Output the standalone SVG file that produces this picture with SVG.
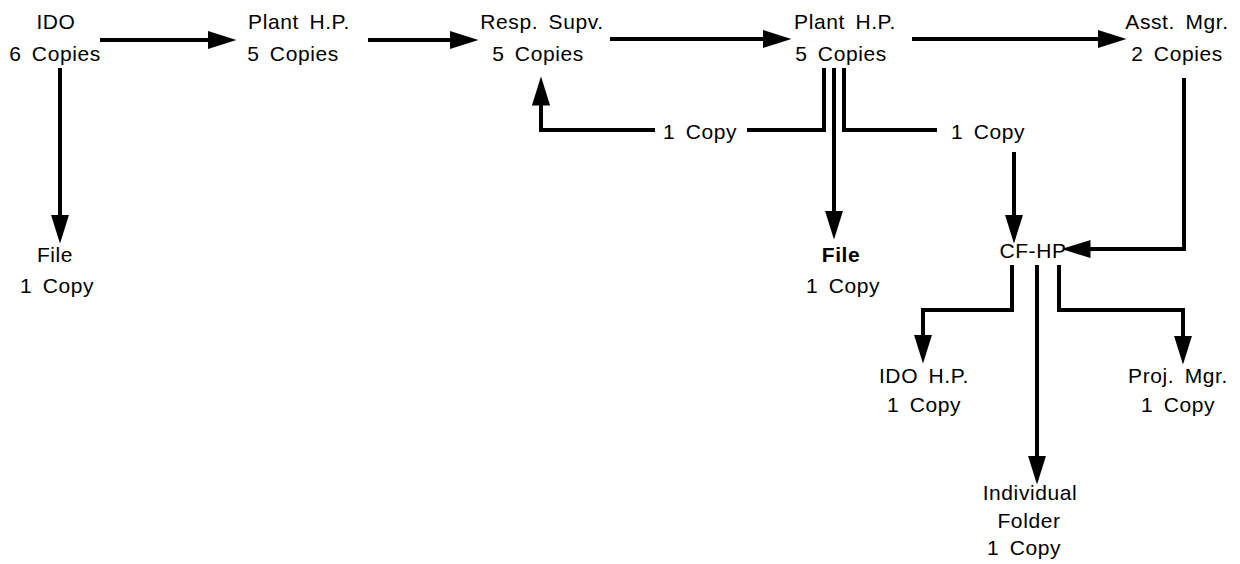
<svg xmlns="http://www.w3.org/2000/svg" width="1240" height="564" viewBox="0 0 1240 564">
<style>
text{font-family:"Liberation Sans",Arial,sans-serif;font-size:21px;fill:#000;text-anchor:middle;letter-spacing:0.6px;word-spacing:4px}
.b{font-weight:bold}
.c{fill:none;stroke:#000;stroke-width:4;stroke-linejoin:miter;marker-end:url(#ah)}
.n{fill:none;stroke:#000;stroke-width:4;stroke-linejoin:miter}
</style>
<defs>
<marker id="ah" markerUnits="userSpaceOnUse" markerWidth="30" markerHeight="20" viewBox="0 -9 28 18" refX="7" refY="0" orient="auto">
<path d="M0,-8.5 L27,0 L0,8.5 Z" fill="#000"/>
</marker>
</defs>
<rect width="1240" height="564" fill="#fff"/>
<g id="connectors">
<path class="c" d="M100,40 H215"/>
<path class="c" d="M368,40 H457"/>
<path class="c" d="M610,39 H770"/>
<path class="c" d="M912,39 H1105"/>
<path class="c" d="M60,68 V222"/>
<path class="n" d="M824,68 V130 H747"/>
<path class="c" d="M655,130 H541 V98"/>
<path class="c" d="M834,68 V218"/>
<path class="n" d="M844,68 V130 H937"/>
<path class="c" d="M1014,152 V222"/>
<path class="c" d="M1184,78 V249 H1083"/>
<path class="c" d="M1012,265 V310 H923 V342"/>
<path class="c" d="M1037,265 V463"/>
<path class="c" d="M1059,265 V310 H1183 V343"/>
</g>
<g id="ido"><text x="56" y="29">IDO</text><text x="55" y="61">6 Copies</text></g>
<g id="plant-hp-1"><text x="299" y="29">Plant H.P.</text><text x="293" y="61">5 Copies</text></g>
<g id="resp-supv"><text x="542" y="29">Resp. Supv.</text><text x="538" y="61">5 Copies</text></g>
<g id="plant-hp-2"><text x="845" y="29">Plant H.P.</text><text x="841" y="61">5 Copies</text></g>
<g id="asst-mgr"><text x="1177" y="29">Asst. Mgr.</text><text x="1177" y="61">2 Copies</text></g>
<g id="file-1"><text x="55" y="262">File</text><text x="57" y="293">1 Copy</text></g>
<g id="copy-left"><text x="700" y="139">1 Copy</text></g>
<g id="copy-right"><text x="988" y="139">1 Copy</text></g>
<g id="file-2"><text class="b" x="841" y="262">File</text><text x="843" y="293">1 Copy</text></g>
<g id="cf-hp"><text x="1033" y="258">CF-HP</text></g>
<g id="ido-hp"><text x="924" y="383">IDO H.P.</text><text x="924" y="412">1 Copy</text></g>
<g id="proj-mgr"><text x="1178" y="383">Proj. Mgr.</text><text x="1178" y="412">1 Copy</text></g>
<g id="individual-folder"><text x="1030" y="500">Individual</text><text x="1029" y="528">Folder</text><text x="1024" y="555">1 Copy</text></g>
</svg>
